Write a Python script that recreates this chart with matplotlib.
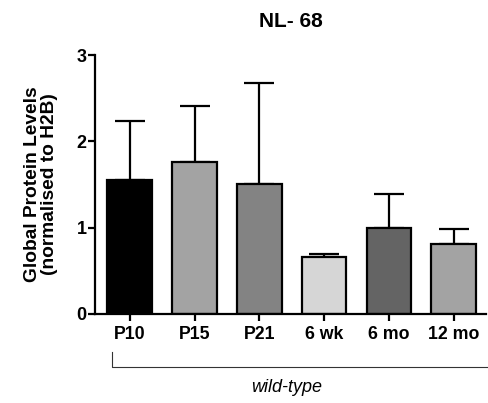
import matplotlib.pyplot as plt
import numpy as np

plt.rcParams['font.family'] = ['Liberation Sans', 'DejaVu Sans']

# data
groups = ['P10', 'P15', 'P21', '6 wk', '6 mo', '12 mo']
means = [1.55, 1.76, 1.51, 0.66, 1.00, 0.81]
err_up = [0.69, 0.65, 1.16, 0.03, 0.39, 0.17]
bar_colors = ['#000000', '#a3a3a3', '#838383', '#d6d6d6', '#646464', '#a3a3a3']

fig = plt.figure(figsize=(4.89, 4.03), dpi=100)
ax = fig.add_axes([0.194, 0.221, 0.80, 0.6425])

x = np.arange(len(groups))
ax.bar(x, means, width=0.69, color=bar_colors, edgecolor='black', linewidth=1.6, zorder=2)
ax.errorbar(x, means, yerr=[np.zeros(len(groups)), err_up], fmt='none',
            ecolor='black', elinewidth=1.6, capsize=10.5, capthick=1.6, zorder=1)

ax.set_xlim(-0.54, 5.5)
ax.set_ylim(0, 3)
ax.set_yticks([0, 1, 2, 3])
ax.set_xticks(x)
ax.set_xticklabels(groups, fontsize=12.8, fontweight='bold')
for lab in ax.get_yticklabels():
    lab.set_fontsize(13)
    lab.set_fontweight('bold')
ax.tick_params(axis='both', width=1.6, length=5, direction='out')
ax.tick_params(axis='x', pad=4)
ax.tick_params(axis='y', pad=1)
for s in ['top', 'right']:
    ax.spines[s].set_visible(False)
for s in ['left', 'bottom']:
    ax.spines[s].set_linewidth(1.6)

ax.set_ylabel('Global Protein Levels\n(normalised to H2B)', fontsize=13.8,
              fontweight='bold', labelpad=13, linespacing=1.05)
ax.set_title('NL- 68', fontsize=15, fontweight='bold', pad=20)

# bracket under the groups
fig.add_artist(plt.Line2D([112 / 489, 112 / 489, 1.0], [1 - 352 / 403, 1 - 367 / 403, 1 - 367 / 403],
                          color='#333333', linewidth=0.8))
fig.text(287 / 489, 1 - 387 / 403, 'wild-type', fontsize=13, fontstyle='italic',
         ha='center', va='center')

fig.savefig('out.png', dpi=100)
